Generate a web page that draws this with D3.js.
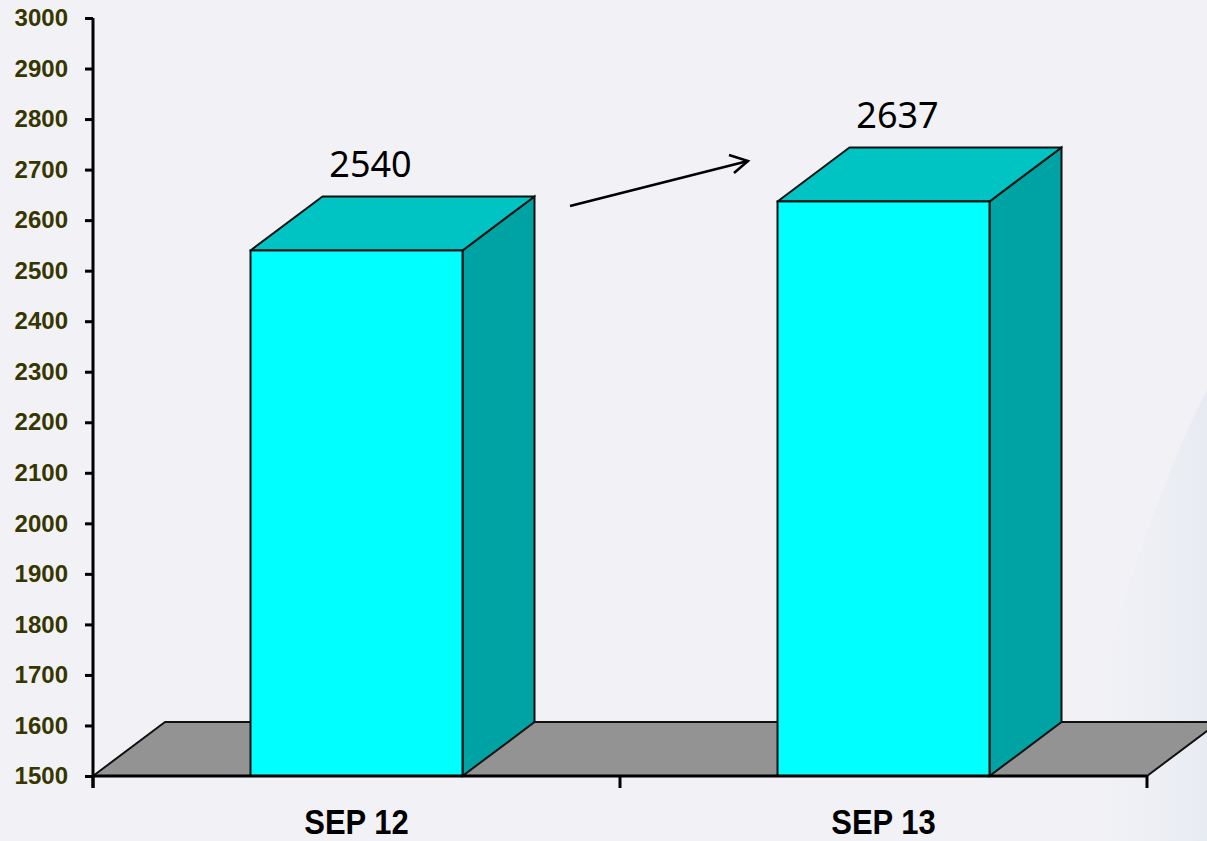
<!DOCTYPE html>
<html>
<head>
<meta charset="utf-8">
<script src="https://cdn.jsdelivr.net/npm/d3@7"></script>
<style>
  body { margin: 0; background: #f2f2f6; }
  svg { display: block; }
</style>
</head>
<body>
<svg id="chart" width="1207" height="841"></svg>
<script>
    // data
    var categories = ['SEP 12', 'SEP 13'];
    var values = [2540, 2637];
    var yTicks = [1500, 1600, 1700, 1800, 1900, 2000, 2100, 2200, 2300, 2400, 2500, 2600, 2700, 2800, 2900, 3000];

    var svg = d3.select('#chart'),
      width = +svg.attr('width'),
      height = +svg.attr('height');

    var plotLeft = 93, plotRight = 1147, plotTop = 18, plotBottom = 776;
    var depthX = 72, depthY = -54;   // 3d offset of the back plane
    var barW = 212;

    var x = d3.scaleBand().domain(categories).range([plotLeft, plotRight]);
    var y = d3.scaleLinear().domain([1500, 3000]).range([plotBottom, plotTop]);

    // faint watermark on the right
    var defs = svg.append('defs');
    var grad = defs.append('linearGradient').attr('id', 'wm')
      .attr('x1', '0').attr('x2', '1').attr('y1', '0').attr('y2', '0');
    grad.append('stop').attr('offset', '0').attr('stop-color', '#f2f2f6').attr('stop-opacity', 0);
    grad.append('stop').attr('offset', '1').attr('stop-color', '#dfe6ee').attr('stop-opacity', 1);
    svg.append('path')
      .attr('d', 'M1060,841 C1110,620 1165,470 1207,390 L1207,841 Z')
      .attr('fill', 'url(#wm)')
      .attr('opacity', 0.6);

    // floor
    svg.append('path')
      .attr('d', d3.line()([
        [plotLeft, plotBottom], [plotLeft + depthX, plotBottom + depthY],
        [plotRight + depthX, plotBottom + depthY], [plotRight, plotBottom]
      ]) + 'Z')
      .attr('fill', '#939393')
      .attr('stroke', '#111')
      .attr('stroke-width', 2)
      .attr('stroke-linejoin', 'round');

    // bars
    var bars = svg.append('g').selectAll('g')
      .data(values)
      .enter().append('g');

    function x0(d, i) { return x(categories[i]) + (x.bandwidth() - barW) / 2; }

    bars.append('path')   // side face
      .attr('d', function(d, i) {
        var a = x0(d, i) + barW;
        return d3.line()([[a, y(d)], [a + depthX, y(d) + depthY],
          [a + depthX, plotBottom + depthY], [a, plotBottom]]) + 'Z';
      })
      .attr('fill', '#00a3a3')
      .attr('stroke', '#111')
      .attr('stroke-width', 2);

    bars.append('path')   // top face
      .attr('d', function(d, i) {
        var a = x0(d, i);
        return d3.line()([[a, y(d)], [a + depthX, y(d) + depthY],
          [a + barW + depthX, y(d) + depthY], [a + barW, y(d)]]) + 'Z';
      })
      .attr('fill', '#00c3c3')
      .attr('stroke', '#111')
      .attr('stroke-width', 2)
      .attr('stroke-linejoin', 'round');

    bars.append('rect')   // front face
      .attr('x', x0)
      .attr('y', function(d) { return y(d); })
      .attr('width', barW)
      .attr('height', function(d) { return plotBottom - y(d); })
      .attr('fill', '#00ffff')
      .attr('stroke', '#111')
      .attr('stroke-width', 2);

    bars.append('text')
      .attr('x', function(d, i) { return x0(d, i) + barW / 2 + 14; })
      .attr('y', function(d) { return y(d) + depthY - 19; })
      .attr('text-anchor', 'middle')
      .attr('font-family', 'Noto Sans, sans-serif')
      .attr('font-size', 36)
      .attr('fill', '#000')
      .text(function(d) { return d; });

    // y axis
    var yAxis = svg.append('g')
      .attr('transform', 'translate(' + plotLeft + ',0)')
      .call(d3.axisLeft(y).tickValues(yTicks).tickSize(8).tickPadding(17).tickFormat(d3.format('d')));
    yAxis.select('.domain').attr('stroke', '#000').attr('stroke-width', 3)
      .attr('d', 'M0,' + plotTop + 'V' + (plotBottom + 12));
    yAxis.selectAll('.tick line').attr('stroke', '#000').attr('stroke-width', 3);
    yAxis.selectAll('.tick text')
      .attr('font-family', 'Liberation Sans, Arial, sans-serif')
      .attr('font-weight', 'bold')
      .attr('font-size', 24)
      .attr('fill', '#363600');

    // x axis
    var xAxis = svg.append('g')
      .attr('transform', 'translate(0,' + plotBottom + ')')
      .call(d3.axisBottom(x).tickSize(0).tickFormat(''));
    xAxis.select('.domain').attr('stroke', '#000').attr('stroke-width', 3)
      .attr('d', 'M' + plotLeft + ',0H' + plotRight);
    xAxis.selectAll('.sep')
      .data([plotLeft, plotLeft + x.step(), plotRight])
      .enter().append('line')
      .attr('x1', function(d) { return d; }).attr('x2', function(d) { return d; })
      .attr('y1', 0).attr('y2', 12)
      .attr('stroke', '#000').attr('stroke-width', 3);

    svg.append('g').selectAll('text')
      .data(categories)
      .enter().append('text')
      .attr('transform', function(d) {
        return 'translate(' + (x(d) + x.bandwidth() / 2) + ',834) scale(1,1.12)';
      })
      .attr('text-anchor', 'middle')
      .attr('font-family', 'Liberation Sans, Arial, sans-serif')
      .attr('font-weight', 'bold')
      .attr('font-size', 31)
      .attr('fill', '#000')
      .text(function(d) { return d; });

    // growth arrow between the bars
    var ax1 = 570, ay1 = 206, ax2 = 748, ay2 = 161;
    svg.append('line')
      .attr('x1', ax1).attr('y1', ay1).attr('x2', ax2).attr('y2', ay2)
      .attr('stroke', '#000').attr('stroke-width', 2.5);
    svg.append('path')
      .attr('d', 'M729,155 L748,161 L734,173')
      .attr('fill', 'none').attr('stroke', '#000').attr('stroke-width', 2.5);
</script>
</body>
</html>
